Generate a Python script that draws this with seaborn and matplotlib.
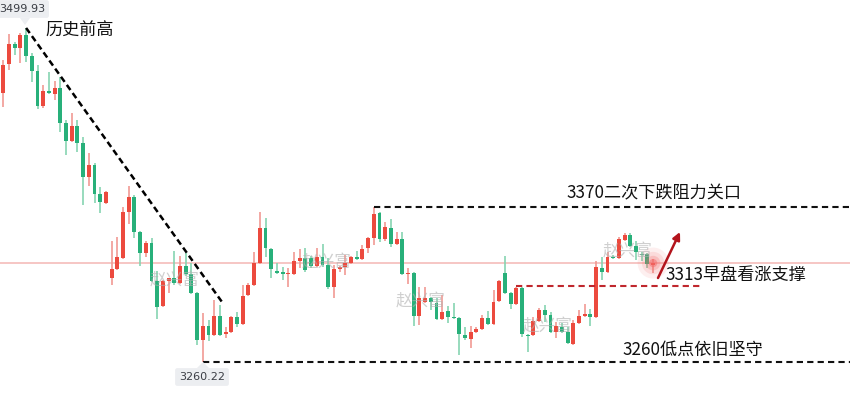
import matplotlib
matplotlib.use("Agg")
import matplotlib.pyplot as plt
import seaborn as sns
import numpy as np
import pandas as pd

# ---------------- data ----------------
opens = [3453.3, 3474.1, 3488.4, 3485.6, 3494.9, 3479.8, 3469.0, 3443.9, 3454.7, 3452.5,
         3456.8, 3431.7, 3418.8, 3429.6, 3417.4, 3393.0, 3401.6, 3380.8, 3374.3, 3320.5,
         3326.9, 3334.8, 3367.9, 3378.6, 3353.5, 3338.4, 3345.6, 3318.3, 3300.4, 3318.3,
         3320.5, 3316.9, 3329.1, 3323.4, 3309.7, 3276.0, 3286.0, 3279.6, 3293.2, 3280.3,
         3281.7, 3292.5, 3287.5, 3308.3, 3315.5, 3331.2, 3356.4, 3341.3, 3325.5, 3324.8,
         3323.4, 3323.4, 3332.7, 3334.8, 3334.8, 3329.1, 3335.5, 3329.8, 3314.0, 3326.9,
         3328.4, 3331.2, 3335.5, 3334.1, 3342.0, 3349.2, 3367.1, 3348.5, 3356.4, 3344.9,
         3348.5, 3323.4, 3324.1, 3293.2, 3303.3, 3306.1, 3302.5, 3291.1, 3296.8, 3292.5,
         3291.8, 3279.6, 3276.7, 3281.7, 3283.9, 3291.8, 3287.5, 3304.0, 3324.1, 3309.7,
         3301.8, 3313.3, 3279.6, 3279.6, 3289.6, 3297.5, 3293.9, 3281.7, 3285.3, 3281.7,
         3273.1, 3288.2, 3293.2, 3294.6, 3292.5, 3327.7, 3324.8, 3335.5, 3334.8, 3347.8,
         3351.4, 3343.4, 3337.7, 3337.7, 3329.8]
highs = [3476.9, 3495.6, 3489.9, 3496.3, 3499.93, 3482.0, 3473.3, 3459.0, 3468.3, 3461.9,
         3464.7, 3433.9, 3438.9, 3433.9, 3421.7, 3410.2, 3403.0, 3385.8, 3382.9, 3347.0,
         3349.9, 3371.4, 3386.5, 3380.0, 3354.0, 3347.0, 3349.2, 3325.5, 3319.0, 3320.8,
         3339.9, 3336.3, 3338.4, 3331.2, 3310.5, 3295.4, 3290.3, 3304.7, 3301.1, 3285.3,
         3293.0, 3296.1, 3315.5, 3316.9, 3339.1, 3367.9, 3363.5, 3342.0, 3331.2, 3328.4,
         3327.7, 3339.1, 3341.3, 3342.0, 3336.3, 3342.0, 3344.9, 3334.8, 3329.8, 3328.8,
         3337.0, 3336.3, 3339.9, 3344.2, 3349.9, 3371.4, 3368.0, 3360.7, 3362.8, 3353.5,
         3353.5, 3327.7, 3324.5, 3314.0, 3314.0, 3306.8, 3306.1, 3308.3, 3300.4, 3302.5,
         3292.2, 3285.3, 3286.0, 3285.3, 3293.9, 3296.8, 3311.9, 3319.0, 3336.3, 3310.2,
         3314.0, 3313.8, 3280.0, 3292.5, 3298.9, 3301.1, 3296.1, 3288.9, 3288.2, 3285.3,
         3290.3, 3297.5, 3301.8, 3298.2, 3332.7, 3335.5, 3339.1, 3337.0, 3349.9, 3352.8,
         3352.8, 3347.0, 3339.1, 3338.4, 3334.1]
lows = [3443.2, 3469.8, 3480.5, 3474.8, 3475.5, 3461.1, 3442.0, 3442.5, 3452.5, 3448.2,
        3425.3, 3408.8, 3418.0, 3410.9, 3372.9, 3386.5, 3374.3, 3367.1, 3373.6, 3315.5,
        3326.2, 3334.0, 3359.2, 3349.2, 3329.1, 3335.5, 3317.5, 3291.1, 3299.8, 3309.7,
        3315.5, 3316.5, 3321.9, 3309.0, 3272.4, 3260.22, 3275.5, 3279.0, 3278.9, 3277.4,
        3281.0, 3285.3, 3287.0, 3307.8, 3315.0, 3330.7, 3335.5, 3320.5, 3323.6, 3319.0,
        3314.0, 3322.9, 3327.7, 3324.8, 3327.7, 3328.6, 3328.4, 3312.6, 3306.1, 3324.8,
        3322.6, 3330.5, 3333.4, 3333.6, 3338.4, 3344.2, 3346.3, 3347.0, 3342.7, 3344.4,
        3322.6, 3316.2, 3286.0, 3286.8, 3302.8, 3297.5, 3290.6, 3290.6, 3288.2, 3291.1,
        3265.2, 3276.0, 3270.2, 3281.2, 3283.4, 3287.0, 3287.0, 3303.5, 3309.2, 3298.2,
        3301.3, 3278.1, 3267.4, 3279.0, 3288.9, 3288.9, 3281.0, 3277.4, 3281.0, 3273.1,
        3272.6, 3287.7, 3292.7, 3286.0, 3292.0, 3319.0, 3324.3, 3334.1, 3334.3, 3347.0,
        3343.0, 3333.4, 3332.7, 3327.7, 3324.1]
closes = [3473.3, 3488.4, 3485.6, 3494.9, 3479.8, 3469.0, 3443.9, 3454.7, 3453.3, 3456.8,
          3431.7, 3418.8, 3429.6, 3417.4, 3393.0, 3401.6, 3380.8, 3375.0, 3382.2, 3326.9,
          3335.5, 3367.9, 3378.6, 3353.5, 3338.4, 3345.6, 3318.3, 3299.7, 3318.3, 3320.5,
          3316.9, 3329.1, 3323.4, 3309.7, 3276.0, 3286.0, 3279.6, 3293.2, 3279.6, 3281.7,
          3292.5, 3287.5, 3307.6, 3315.5, 3331.2, 3356.4, 3342.0, 3326.9, 3324.1, 3323.4,
          3324.1, 3332.7, 3334.8, 3326.2, 3329.1, 3335.5, 3329.8, 3314.0, 3326.9, 3328.4,
          3331.2, 3335.5, 3334.1, 3341.3, 3349.2, 3366.4, 3348.5, 3357.1, 3344.9, 3348.5,
          3323.4, 3324.1, 3293.2, 3306.1, 3306.1, 3303.3, 3291.1, 3296.1, 3292.5, 3291.8,
          3280.3, 3277.4, 3281.7, 3283.9, 3291.8, 3287.5, 3303.3, 3318.3, 3309.7, 3301.8,
          3313.3, 3280.3, 3278.9, 3289.6, 3297.5, 3293.9, 3281.7, 3286.0, 3281.7, 3273.8,
          3288.2, 3293.2, 3294.6, 3292.5, 3328.4, 3324.8, 3335.5, 3334.8, 3348.5, 3351.4,
          3343.4, 3339.1, 3337.0, 3330.5, 3331.2]

high_label = "3499.93"
low_label = "3260.22"
resistance = 3371.4
support_low = 3260.22
support_am = 3314.7
last_price = 3331.2

ann_top = "历史前高"
ann_res = "3370二次下跌阻力关口"
ann_am = "3313早盘看涨支撑"
ann_low = "3260低点依旧坚守"
watermark = "赵兴富"

# ---------------- figure ----------------
sns.set_theme(style="white")
plt.rcParams['font.family'] = ['Noto Sans CJK SC', 'DejaVu Sans']

df = pd.DataFrame({"open": opens, "high": highs, "low": lows, "close": closes})
df["idx"] = np.arange(len(df))
df["up"] = df["close"] >= df["open"]
df["bottom"] = df[["open", "close"]].min(axis=1)
df["height"] = (df["close"] - df["open"]).abs().clip(lower=1.0)

RED = "#ec4a3e"
GREEN = "#28b07a"
RED_W = "#f19a93"
GREEN_W = "#86d4b2"

fig = plt.figure(figsize=(8.5, 3.96), dpi=100)
ax = fig.add_axes([0, 0, 1, 1])
ax.set_axis_off()
ax.set_xlim(-0.58, 148.54)
ax.set_ylim(3235.8, 3520.0)

# current price line
ax.axhline(last_price, color="#f6c6c4", lw=1.4, zorder=1)

# wicks
for up, wc in [(True, RED_W), (False, GREEN_W)]:
    d = df[df["up"] == up]
    ax.vlines(d["idx"], d["low"], d["high"], color=wc, lw=1.2, zorder=2)
# bodies
for up, bc in [(True, RED), (False, GREEN)]:
    d = df[df["up"] == up]
    ax.bar(d["idx"], d["height"], bottom=d["bottom"], width=0.68, color=bc,
           edgecolor="none", zorder=3)

# trend line from historic high
ax.plot([4, 38.5], [highs[4], 3302.5], color="black", lw=1.8,
        ls=(0, (2.5, 1.5)), zorder=4)
# level lines
ax.hlines(resistance, 65, 149, color="#111111", lw=1.5, ls=(0, (3, 2)), zorder=4)
ax.hlines(support_low, 35, 149, color="#111111", lw=1.5, ls=(0, (3, 2)), zorder=4)
ax.hlines(support_am, 90, 122.2, color="#c0272d", lw=1.5, ls=(0, (3, 2)), zorder=4)

# glow at last candle
for s, a in [(500, 0.10), (260, 0.15), (110, 0.25), (35, 0.5)]:
    ax.scatter([len(df) - 1], [last_price], s=s, color="#f26a6a", alpha=a,
               edgecolors="none", zorder=5)

# arrow
ax.annotate("", xy=(680, 396 - 232), xytext=(658, 396 - 278),
            xycoords="figure pixels", textcoords="figure pixels",
            arrowprops=dict(arrowstyle="-|>", color="#b3141c", lw=1.8,
                            mutation_scale=11, shrinkA=0, shrinkB=0), zorder=6)

# annotation texts
tkw = dict(xycoords="figure pixels", fontsize=12.3, color="#111111",
           va="center", ha="left", zorder=7)
ax.annotate(ann_top, xy=(45, 396 - 31), **tkw)
ax.annotate(ann_res, xy=(566, 396 - 193), **tkw)
ax.annotate(ann_am, xy=(665, 396 - 275), **tkw)
ax.annotate(ann_low, xy=(622, 396 - 350), **tkw)

# watermarks
for (wx, wy) in [(175, 280), (327, 262), (421, 301), (548, 326), (628, 251)]:
    ax.annotate(watermark, xy=(wx, 396 - wy), xycoords="figure pixels",
                fontsize=12, color="#b0b0b0", alpha=0.6, ha="center",
                va="center", zorder=8)

# price labels with pointer
bb = dict(boxstyle="round,pad=0.35,rounding_size=0.2", fc="#eceef1", ec="none")
ax.annotate(high_label, xy=(22, 396 - 9), xycoords="figure pixels", fontsize=8,
            color="#3a3d44", ha="center", va="center", bbox=bb, zorder=9,
            family=["DejaVu Sans"])
ax.annotate(low_label, xy=(202, 396 - 377), xycoords="figure pixels", fontsize=8,
            color="#3a3d44", ha="center", va="center", bbox=bb, zorder=9,
            family=["DejaVu Sans"])
from matplotlib.patches import Polygon
tri1 = Polygon([(20 / 850, 1 - 18 / 396), (30 / 850, 1 - 18 / 396), (25 / 850, 1 - 25 / 396)],
               closed=True, fc="#eceef1", ec="none", transform=fig.transFigure, zorder=9)
tri2 = Polygon([(197 / 850, 1 - 368 / 396), (209 / 850, 1 - 368 / 396), (203 / 850, 1 - 362 / 396)],
               closed=True, fc="#eceef1", ec="none", transform=fig.transFigure, zorder=9)
fig.patches.extend([tri1, tri2])

fig.savefig("out.png", dpi=100)
